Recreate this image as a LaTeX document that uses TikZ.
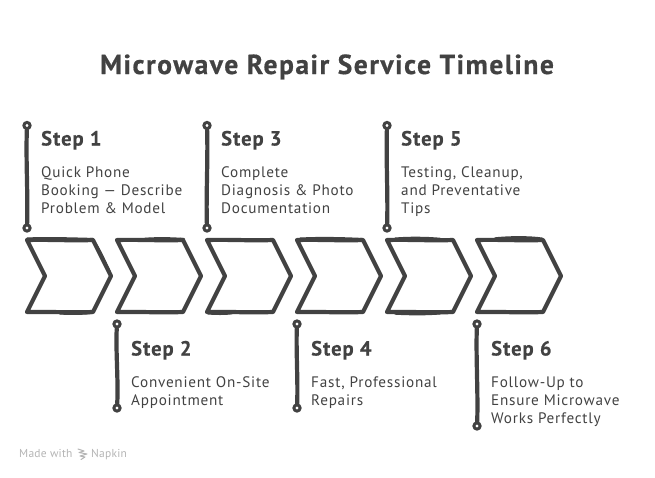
\documentclass[tikz,border=0pt]{standalone}
\usepackage{fontspec}
\setmainfont{PT Sans}
\newfontface\titleface{PT Sans Bold}[LetterSpace=5.6,FakeBold=0.6]
\newfontface\headface{PT Sans Bold}[LetterSpace=5,FakeBold=0.4]
\newfontface\bodyface{PT Sans}[LetterSpace=5]
\newfontface\footface{PT Sans}[LetterSpace=2]
\definecolor{ink}{HTML}{424242}
\definecolor{mutedink}{HTML}{B4B4B4}
\tikzset{
  x=1pt,y=-1pt,
  titletext/.style={inner sep=0pt,text=ink,font=\titleface\fontsize{27.5}{27.5}\selectfont,anchor=base},
  headtext/.style={inner sep=0pt,text=ink,font=\headface\fontsize{20.5}{20.5}\selectfont,anchor=base west},
  bodytext/.style={inner sep=0pt,text=ink,font=\bodyface\fontsize{15.2}{18}\selectfont,anchor=base west,align=left},
  dotmark/.style={circle,draw=ink,fill=white,line width=3pt,minimum size=6.2pt,inner sep=0pt},
  stem/.style={draw=ink,line width=4.2pt,line cap=round},
  chev/.style={draw=ink,line width=4.2pt,line join=round,fill=white},
  rough/.style={draw=ink,line width=2.2pt,line cap=round},
  foot/.style={inner sep=0pt,text=mutedink,font=\footface\fontsize{11.5}{11.5}\selectfont,anchor=base west}
}
\newcommand{\chevat}[1]{%
  \draw[chev,shift={(#1,0)}] (27,240) .. controls (50,239.4) and (70,240.8) .. (93,240) -- (111,276) -- (93,312) .. controls (70,312.8) and (50,311.6) .. (27,312) -- (45,276) -- cycle;%
}
\begin{document}
\begin{tikzpicture}
\useasboundingbox (0,0) rectangle (655,477);
\node[titletext] (title) at (327,74) {Microwave Repair Service Timeline};
\foreach \o in {0,90,180,270,360,450}{\chevat{\o}}
% sketchy overstrokes on the chevrons
\draw[rough] (27,238.6) .. controls (45,237.6) and (70,238.4) .. (93,239);
\draw[rough] (95,243) .. controls (100,250) and (105,262) .. (110,272);
\draw[rough] (60,313.4) .. controls (70,314.2) and (80,314) .. (92,313);
\draw[rough] (145,238.8) .. controls (160,237.8) and (170,238.2) .. (184,239);
\draw[rough] (208,313.4) .. controls (215,314) and (225,314.2) .. (232,313.2);
\draw[rough] (300,238.6) .. controls (320,237.6) and (340,238) .. (362,239);
\draw[rough] (395,238.6) .. controls (410,237.4) and (425,237.6) .. (440,238.8);
\draw[rough] (395,313.6) .. controls (410,314.4) and (425,314.6) .. (440,313.4);
\draw[rough] (495,238.4) .. controls (510,236.8) and (530,236.8) .. (542,238.6);
% step 1
\node[dotmark] (a1) at (27,125.5) {}; \node[dotmark] (b1) at (27,228) {};
\draw[stem] (a1) .. controls (25.8,160) and (28,195) .. (b1);
\node[headtext] (h1) at (41,145.5) {Step 1};
\node[bodytext] (t1a) at (41,177) {Quick Phone};
\node[bodytext] (t1b) at (41,195) {Booking — Describe};
\node[bodytext] (t1c) at (41,213) {Problem \& Model};
% step 2
\node[dotmark] (a2) at (117,324) {}; \node[dotmark] (b2) at (117,408) {};
\draw[stem] (a2) .. controls (115.6,350) and (118.4,380) .. (b2);
\node[headtext] (h2) at (131,355.5) {Step 2};
\node[bodytext] (t2a) at (131,387) {Convenient On-Site};
\node[bodytext] (t2b) at (131,405) {Appointment};
% step 3
\node[dotmark] (a3) at (207,125.5) {}; \node[dotmark] (b3) at (207,228) {};
\draw[stem] (a3) .. controls (208,160) and (206,195) .. (b3);
\node[headtext] (h3) at (221,145.5) {Step 3};
\node[bodytext] (t3a) at (221,177) {Complete};
\node[bodytext] (t3b) at (221,195) {Diagnosis \& Photo};
\node[bodytext] (t3c) at (221,213) {Documentation};
% step 4
\node[dotmark] (a4) at (297,324) {}; \node[dotmark] (b4) at (297,408) {};
\draw[stem] (a4) .. controls (296,350) and (298,380) .. (b4);
\node[headtext] (h4) at (311,355.5) {Step 4};
\node[bodytext] (t4a) at (311,387) {Fast, Professional};
\node[bodytext] (t4b) at (311,405) {Repairs};
% step 5
\node[dotmark] (a5) at (387,125.5) {}; \node[dotmark] (b5) at (387,228) {};
\draw[stem] (a5) .. controls (386,160) and (388,195) .. (b5);
\node[headtext] (h5) at (401,145.5) {Step 5};
\node[bodytext] (t5a) at (401,177) {Testing, Cleanup,};
\node[bodytext] (t5b) at (401,195) {and Preventative};
\node[bodytext] (t5c) at (401,213) {Tips};
% step 6
\node[dotmark] (a6) at (477,324) {}; \node[dotmark] (b6) at (477,426) {};
\draw[stem] (a6) .. controls (475.8,355) and (478.2,395) .. (b6);
\node[headtext] (h6) at (491,355.5) {Step 6};
\node[bodytext] (t6a) at (491,387) {Follow-Up to};
\node[bodytext] (t6b) at (491,405) {Ensure Microwave};
\node[bodytext] (t6c) at (491,423) {Works Perfectly};
\node[foot] (f) at (19,457) {Made with};
\node[foot] (n) at (91,457) {Napkin};
% Napkin logo
\draw[mutedink,line width=1pt,line cap=round,line join=round]
  (78,449) -- (84,451) -- (79,452.5) -- (87,454) -- (80,456) -- (85,457) -- (81,459.5);
\end{tikzpicture}
\end{document}
